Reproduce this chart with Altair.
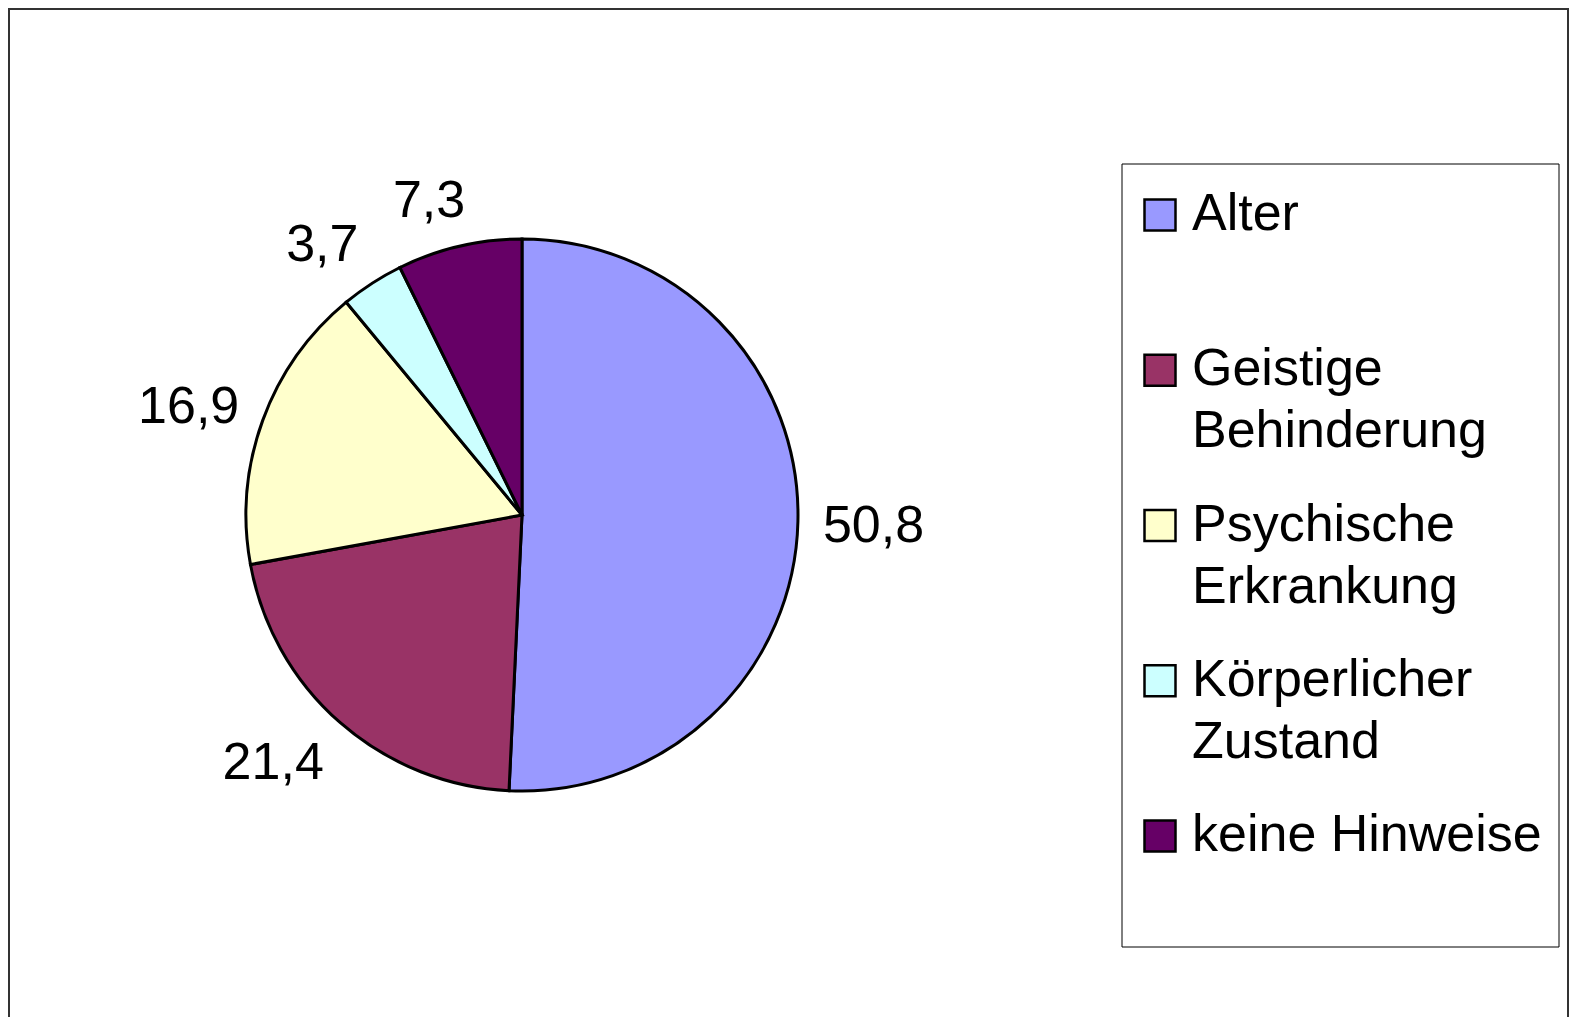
import altair as alt
import pandas as pd

categories = ["Alter", "Geistige\nBehinderung", "Psychische\nErkrankung",
              "Körperlicher\nZustand", "keine Hinweise"]
values = [50.8, 21.4, 16.9, 3.7, 7.3]
colors = ["#9999FF", "#993366", "#FFFFCC", "#CCFFFF", "#660066"]

df = pd.DataFrame({
    "idx": list(range(len(categories))),
    "cat": categories,
    "value": values,
})

W, H = 1561, 1009
CX, CY, R = 514, 507, 276
LD = 301          # distance of label box from centre
FS = 52
FONT = "Liberation Sans"

color_scale = alt.Scale(domain=categories, range=colors)
base = alt.Chart(df)

frame = base.transform_filter("datum.idx == 0").mark_rect(
    fill="white", stroke="#333333", strokeWidth=2
).encode(x=alt.value(1), x2=alt.value(W - 1), y=alt.value(1), y2=alt.value(H + 40))

pie = base.mark_arc(radius=R, stroke="black", strokeWidth=3).encode(
    theta=alt.Theta("value:Q", stack=True),
    color=alt.Color("cat:N", scale=color_scale, legend=None),
    order=alt.Order("idx:Q"),
    x=alt.value(CX), y=alt.value(CY),
)

# Label placement (outside end, box-aligned like the original)
labels = base.transform_window(
    cum="sum(value)", sort=[alt.SortField("idx", order="ascending")]
).transform_joinaggregate(
    total="sum(value)"
).transform_calculate(
    lbl="replace(format(datum.value, '.1f'), '.', ',')",
    mid="(datum.cum - datum.value / 2) / datum.total * 2 * PI",
).transform_calculate(
    hw=f"((length(datum.lbl) - 1) * 0.556 + 0.278) * {FS} / 2",
).transform_calculate(
    px=f"{CX} + {LD} * sin(datum.mid) + datum.hw * clamp(3 * sin(datum.mid), -1, 1)",
    py=f"{CY} - {LD} * cos(datum.mid) - 24 * cos(datum.mid) + 3",
).mark_text(fontSize=FS, font=FONT, color="black",
            align="center", baseline="middle").encode(
    x=alt.X("px:Q", scale=None, axis=None),
    y=alt.Y("py:Q", scale=None, axis=None),
    text="lbl:N",
)

legend_box = base.transform_filter("datum.idx == 0").mark_rect(
    fill="white", stroke="black", strokeWidth=1
).encode(x=alt.value(1114), x2=alt.value(1551), y=alt.value(156), y2=alt.value(939))

yscale = alt.Scale(domain=[0, 4], range=[207, 828])

leg_sym = base.mark_square(size=31 * 31, stroke="black", strokeWidth=2.5, opacity=1).encode(
    x=alt.value(1152),
    y=alt.Y("idx:Q", scale=yscale, axis=None),
    fill=alt.Color("cat:N", scale=color_scale, legend=None),
)

leg_txt = base.transform_calculate(
    lines="split(datum.cat, '\\n')"
).mark_text(fontSize=FS, font=FONT, color="black", align="left",
            baseline="alphabetic", dy=15, lineHeight=62).encode(
    x=alt.value(1184),
    y=alt.Y("idx:Q", scale=yscale, axis=None),
    text="lines:N",
)

chart = alt.layer(frame, legend_box, pie, labels, leg_sym, leg_txt).properties(
    width=W, height=H, autosize=alt.AutoSizeParams(type="none"), padding=0,
    background="white",
).configure_view(strokeWidth=0)

chart.save("out.html", embed_options={"renderer": "svg", "actions": False})
